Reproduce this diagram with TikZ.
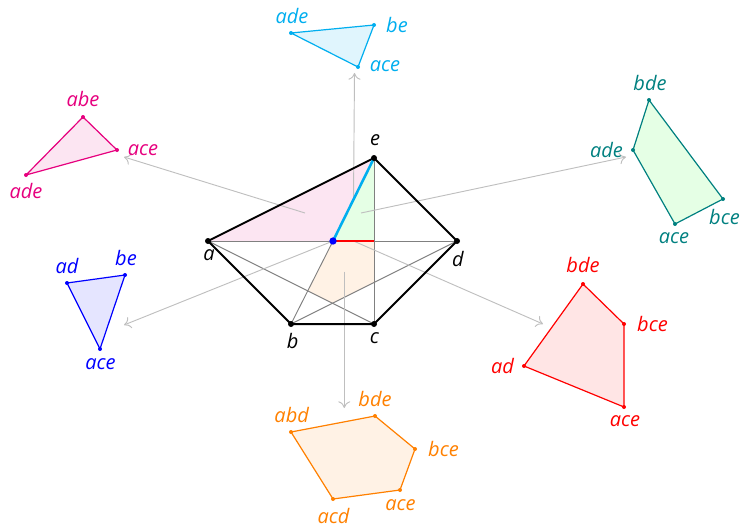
\documentclass[tikz,border=0pt]{standalone}
\usepackage{fontspec}
\setmainfont{Open Sans}
\usetikzlibrary{arrows.meta}
\definecolor{cmag}{RGB}{230,0,126}
\definecolor{ccyan}{RGB}{0,174,239}
\definecolor{cteal}{RGB}{0,128,128}
\definecolor{cblue}{RGB}{0,0,255}
\definecolor{cred}{RGB}{255,0,0}
\definecolor{corange}{RGB}{255,128,0}
\tikzset{
  lbl/.style={font=\itshape\fontsize{15}{17}\selectfont, inner sep=0pt, anchor=base},
  vdot/.style={circle, fill, inner sep=0pt, minimum size=4.5pt},
  sdot/.style={circle, fill, inner sep=0pt, minimum size=3pt},
  inner/.style={black!50, line width=0.7pt},
  arr/.style={black!25, line width=0.7pt, -{To[length=5pt,width=9pt]}},
  fib/.style={line width=0.9pt, line join=round},
  pent/.style={line width=1.5pt, line join=round},
}
\begin{document}
\begin{tikzpicture}[x=0.75pt,y=-0.75pt]
\useasboundingbox (0,0) rectangle (742,528);
% pentagon and interior points
\coordinate (a) at (208,241);
\coordinate (b) at (291,324);
\coordinate (c) at (374,324);
\coordinate (d) at (457,241);
\coordinate (e) at (374,158);
\coordinate (p) at (333,241);
\coordinate (r) at (374,241);
\coordinate (q1) at (374,282.5);
\coordinate (q2) at (332.5,303.2);
\coordinate (q3) at (307.8,290.9);
% region fills
\fill[cmag!10] (a) -- (p) -- (e) -- cycle;
\fill[green!10] (p) -- (e) -- (r) -- cycle;
\fill[corange!10] (p) -- (r) -- (q1) -- (q2) -- (q3) -- cycle;
% interior gray lines
\draw[inner] (a) -- (d);
\draw[inner] (a) -- (c);
\draw[inner] (b) -- (d);
\draw[inner] (c) -- (e);
\draw[inner] (b) -- (p);
% arrow start/end points
\coordinate (spk) at (305,213);
\coordinate (tpk) at (124,157);
\coordinate (scy) at (353.5,199.5);
\coordinate (tcy) at (354.5,73);
\coordinate (sgr) at (361,213);
\coordinate (tgr) at (626,157);
\coordinate (sbl) at (333,241);
\coordinate (tbl) at (124,325);
\coordinate (srd) at (353.5,241);
\coordinate (trd) at (543,324);
\coordinate (sor) at (344.3,271.7);
\coordinate (tor) at (344.3,408);
\draw[arr] (spk) -- (tpk);
\draw[arr] (scy) -- (tcy);
\draw[arr] (sgr) -- (tgr);
\draw[arr] (sbl) -- (tbl);
\draw[arr] (srd) -- (trd);
\draw[arr] (sor) -- (tor);
% pentagon
\draw[pent] (a) -- (b) -- (c) -- (d) -- (e) -- cycle;
\draw[ccyan, line width=1.9pt] (p) -- (e);
\draw[cred, line width=1.9pt] (p) -- (r);
\foreach \v in {a,b,c,d,e} \node[vdot] (dot\v) at (\v) {};
\node[vdot, cblue, minimum size=5.5pt] (dotp) at (p) {};
\node[lbl] (la) at (209,260) {a};
\node[lbl] (lb) at (292.7,348) {b};
\node[lbl] (lc) at (374.3,343.3) {c};
\node[lbl] (ld) at (458,266.7) {d};
\node[lbl] (le) at (375,145) {e};
% pink fiber
\begin{scope}[cmag]
\coordinate (pk1) at (83,117);
\coordinate (pk2) at (117,150);
\coordinate (pk3) at (26,175);
\filldraw[fib, fill=cmag!10] (pk1) -- (pk2) -- (pk3) -- cycle;
\foreach \v in {pk1,pk2,pk3} \node[sdot] at (\v) {};
\node[lbl] (lpk1) at (83,106.7) {abe};
\node[lbl] (lpk2) at (143,155) {ace};
\node[lbl] (lpk3) at (26,198) {ade};
\end{scope}
% cyan fiber
\begin{scope}[ccyan]
\coordinate (cy1) at (291,33);
\coordinate (cy2) at (374,25);
\coordinate (cy3) at (358,67);
\filldraw[fib, fill=ccyan!12] (cy1) -- (cy2) -- (cy3) -- cycle;
\foreach \v in {cy1,cy2,cy3} \node[sdot] at (\v) {};
\node[lbl] (lcy1) at (292,23.3) {ade};
\node[lbl] (lcy2) at (397,32.3) {be};
\node[lbl] (lcy3) at (385,71.7) {ace};
\end{scope}
% teal fiber
\begin{scope}[cteal]
\coordinate (tl1) at (649,100);
\coordinate (tl2) at (633,150);
\coordinate (tl3) at (675,224);
\coordinate (tl4) at (723,199);
\filldraw[fib, fill=green!10] (tl1) -- (tl2) -- (tl3) -- (tl4) -- cycle;
\foreach \v in {tl1,tl2,tl3,tl4} \node[sdot] at (\v) {};
\node[lbl] (ltl1) at (650,90) {bde};
\node[lbl] (ltl2) at (606.5,157.3) {ade};
\node[lbl] (ltl3) at (674,243.3) {ace};
\node[lbl] (ltl4) at (724.5,224) {bce};
\end{scope}
% blue fiber
\begin{scope}[cblue]
\coordinate (bl1) at (67,283);
\coordinate (bl2) at (125,275);
\coordinate (bl3) at (100,349);
\filldraw[fib, fill=cblue!10] (bl1) -- (bl2) -- (bl3) -- cycle;
\foreach \v in {bl1,bl2,bl3} \node[sdot] at (\v) {};
\node[lbl] (lbl1) at (67,273.3) {ad};
\node[lbl] (lbl2) at (126,265) {be};
\node[lbl] (lbl3) at (100.5,369) {ace};
\end{scope}
% red fiber
\begin{scope}[cred]
\coordinate (rd1) at (583,284);
\coordinate (rd2) at (624,324);
\coordinate (rd3) at (624,407);
\coordinate (rd4) at (524,366);
\filldraw[fib, fill=cred!10] (rd1) -- (rd2) -- (rd3) -- (rd4) -- cycle;
\foreach \v in {rd1,rd2,rd3,rd4} \node[sdot] at (\v) {};
\node[lbl] (lrd1) at (583,272.7) {bde};
\node[lbl] (lrd2) at (652.5,331.7) {bce};
\node[lbl] (lrd3) at (625,426.7) {ace};
\node[lbl] (lrd4) at (502.5,373.3) {ad};
\end{scope}
% orange fiber
\begin{scope}[corange]
\coordinate (or1) at (291,432);
\coordinate (or2) at (375,416);
\coordinate (or3) at (415,449);
\coordinate (or4) at (400,490);
\coordinate (or5) at (333,499);
\filldraw[fib, fill=corange!10] (or1) -- (or2) -- (or3) -- (or4) -- (or5) -- cycle;
\foreach \v in {or1,or2,or3,or4,or5} \node[sdot] at (\v) {};
\node[lbl] (lor1) at (291.7,422.7) {abd};
\node[lbl] (lor2) at (375,406) {bde};
\node[lbl] (lor3) at (443.5,456) {bce};
\node[lbl] (lor4) at (400.5,510) {ace};
\node[lbl] (lor5) at (333.5,523.3) {acd};
\end{scope}
\end{tikzpicture}
\end{document}
